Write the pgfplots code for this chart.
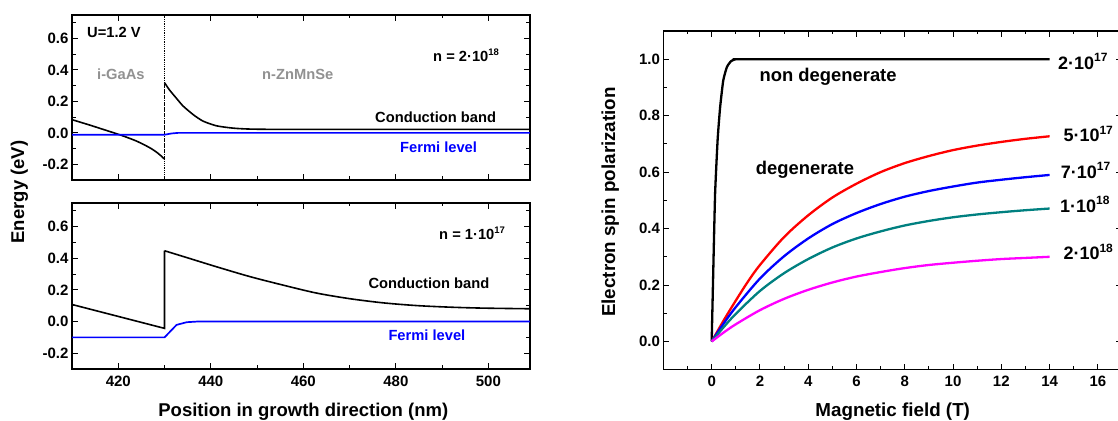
\documentclass[border=0pt]{standalone}
\usepackage{pgfplots}
\pgfplotsset{compat=1.18}
\usepackage{fontspec}
\setmainfont{Liberation Sans}
\newcommand\fs[1]{\fontsize{#1}{#1}\selectfont\bfseries}
\newcommand\sps[2]{\raisebox{0.42em}{\fontsize{#1}{#1}\selectfont\bfseries #2}}
\definecolor{tealc}{RGB}{0,128,128}
\definecolor{greyc}{RGB}{145,145,145}
\definecolor{magc}{RGB}{255,0,255}
\pgfplotsset{
  myax/.style={
    scale only axis, anchor=south west,
    axis line style={line width=1.2pt},
    every tick/.style={black, line width=1.0pt},
    tick align=inside, major tick length=6pt, minor tick length=3.5pt,
    tick label style={font=\fs{15}},
    xticklabel style={yshift=-3pt},
    /pgf/number format/assume math mode=true,
  },
  leftax/.style={
    myax, width=458pt,
    xmin=410, xmax=509, ymin=-0.3, ymax=0.75,
    xtick={420,440,460,480,500}, minor xtick={430,450,470,490},
    ytick={-0.2,0,0.2,0.4,0.6}, minor ytick={-0.1,0.1,0.3,0.5,0.7},
    yticklabel style={/pgf/number format/.cd, fixed, fixed zerofill, precision=1},
    xticklabel style={/pgf/number format/.cd, fixed, precision=0, 1000 sep={}},
  },
}
\begin{document}
\begin{tikzpicture}[x=1pt,y=1pt]
\useasboundingbox (0,0) rectangle (1118,420);

% ---------- top left ----------
\begin{axis}[leftax, at={(72pt,240pt)}, height=165pt, xticklabels={}]
\addplot[black, densely dotted, line width=0.8pt] coordinates {(430,-0.3) (430,0.75)};
\addplot[black, line width=1.6pt, smooth, tension=0.4] coordinates {
(410,0.084)(412,0.066)(414,0.048)(416,0.029)(418,0.010)(420,-0.009)(422,-0.030)
(424,-0.053)(426,-0.082)(427,-0.098)(428,-0.117)(429,-0.140)(430,-0.167)};
\addplot[black, dashed, line width=1.0pt] coordinates {(430,-0.167)(430,0.319)};
\addplot[black, line width=1.6pt, smooth, tension=0.4] coordinates {
(430,0.319)(431.1,0.272)(432.6,0.219)(434,0.171)(436.2,0.116)(438.3,0.075)
(441.2,0.045)(444.8,0.030)(448.5,0.024)(455,0.022)(470,0.022)(509,0.022)};
\addplot[blue, line width=1.7pt] coordinates {
(410,-0.012)(430,-0.012)(431.5,-0.004)(433,0)(509,0)};
\end{axis}

% ---------- bottom left ----------
\begin{axis}[leftax, at={(72pt,51pt)}, height=166pt]
\addplot[black, line width=1.6pt] coordinates {
(410,0.108)(430,-0.043)(430,0.448)};
\addplot[black, line width=1.6pt, smooth, tension=0.5] coordinates {
(430,0.448)(435,0.403)(441.3,0.346)(448.5,0.284)(455.7,0.230)
(462.9,0.180)(470.2,0.144)(477.4,0.118)(484.6,0.101)(491.8,0.091)(499,0.085)(509,0.081)};
\addplot[blue, line width=1.7pt] coordinates {
(410,-0.1)(430,-0.1)(432.6,-0.021)(434.8,-0.004)(437,0)(509,0)};
\end{axis}

% ---------- right ----------
\begin{axis}[myax, at={(663.4pt,50.3pt)}, width=458.6pt, height=338.7pt,
  xmin=-2, xmax=17, ymin=-0.1, ymax=1.1,
  xtick={0,2,...,16}, minor xtick={-1,1,3,5,7,9,11,13,15,17},
  ytick={0,0.2,0.4,0.6,0.8,1.0}, minor ytick={0.1,0.3,0.5,0.7,0.9},
  yticklabel style={/pgf/number format/.cd, fixed, fixed zerofill, precision=1},
  xticklabel style={/pgf/number format/.cd, fixed, precision=0},
]
\addplot[black, line width=2.3pt, smooth, tension=0.3] coordinates {
(0,0)(0.05,0.19)(0.1,0.38)(0.14,0.52)(0.18,0.60)(0.25,0.72)(0.35,0.83)(0.48,0.925)
(0.63,0.972)(0.8,0.993)(1.0,1.0)(1.5,1.0)(14,1.0)};
\addplot[red, line width=2.3pt, smooth] coordinates {
(0,0)(0.5,0.075)(1,0.145)(1.5,0.212)(2,0.271)(3,0.370)(4,0.447)(5,0.510)(6,0.559)
(7,0.600)(8,0.632)(9,0.657)(10,0.678)(11,0.694)(12,0.707)(13,0.718)(14,0.727)};
\addplot[blue, line width=2.3pt, smooth] coordinates {
(0,0)(0.5,0.064)(1,0.122)(2,0.223)(3,0.302)(4,0.365)(5,0.416)(6,0.455)(7,0.487)
(8,0.513)(9,0.533)(10,0.549)(11,0.563)(12,0.573)(13,0.582)(14,0.590)};
\addplot[tealc, line width=2.3pt, smooth] coordinates {
(0,0)(0.5,0.051)(1,0.098)(2,0.179)(3,0.242)(4,0.292)(5,0.333)(6,0.365)(7,0.390)
(8,0.411)(9,0.427)(10,0.440)(11,0.450)(12,0.458)(13,0.465)(14,0.471)};
\addplot[magc, line width=2.3pt, smooth] coordinates {
(0,0)(0.5,0.032)(1,0.061)(2,0.111)(3,0.151)(4,0.183)(5,0.209)(6,0.230)(7,0.246)
(8,0.260)(9,0.271)(10,0.279)(11,0.286)(12,0.292)(13,0.296)(14,0.300)};
\end{axis}

% ---------- texts left ----------
\node[anchor=base west, inner sep=0] at (87,382.3) {\fs{14.7}U=1.2 V};
\node[anchor=base west, inner sep=0, text=greyc] at (97,340) {\fs{14.7}i-GaAs};
\node[anchor=base west, inner sep=0, text=greyc] at (262,340) {\fs{14.7}n-ZnMnSe};
\node[anchor=base west, inner sep=0] at (433,358.3) {\fs{14.7}n = 2·10\sps{9.5}{18}};
\node[anchor=base west, inner sep=0] at (375,297.3) {\fs{14.7}Conduction band};
\node[anchor=base west, inner sep=0, text=blue] at (400,267.7) {\fs{14.7}Fermi level};
\node[anchor=base west, inner sep=0] at (439,180.7) {\fs{14.7}n = 1·10\sps{9.5}{17}};
\node[anchor=base west, inner sep=0] at (368.3,131.3) {\fs{14.7}Conduction band};
\node[anchor=base west, inner sep=0, text=blue] at (388.3,79.3) {\fs{14.7}Fermi level};
\node[rotate=90, inner sep=0] at (19.5,228) {\fs{18.5}Energy (eV)};
\node[anchor=base, inner sep=0] at (303.3,3.5) {\fs{18.5}Position in growth direction (nm)};

% ---------- texts right ----------
\node[anchor=base west, inner sep=0] at (759.4,338.5) {\fs{18.4}non degenerate};
\node[anchor=base west, inner sep=0] at (755.7,245) {\fs{18.4}degenerate};
\node[anchor=base west, inner sep=0] at (1058,350.7) {\fs{18}2·10\sps{12}{17}};
\node[anchor=base west, inner sep=0] at (1063.3,278.3) {\fs{18}5·10\sps{12}{17}};
\node[anchor=base west, inner sep=0] at (1060.7,241.7) {\fs{18}7·10\sps{12}{17}};
\node[anchor=base west, inner sep=0] at (1060,207.7) {\fs{18}1·10\sps{12}{18}};
\node[anchor=base west, inner sep=0] at (1063.3,160) {\fs{18}2·10\sps{12}{18}};
\node[rotate=90, inner sep=0] at (610.2,218) {\fs{18.8}Electron spin polarization};
\node[anchor=base, inner sep=0] at (892.7,3.5) {\fs{18.8}Magnetic field (T)};
\end{tikzpicture}
\end{document}
